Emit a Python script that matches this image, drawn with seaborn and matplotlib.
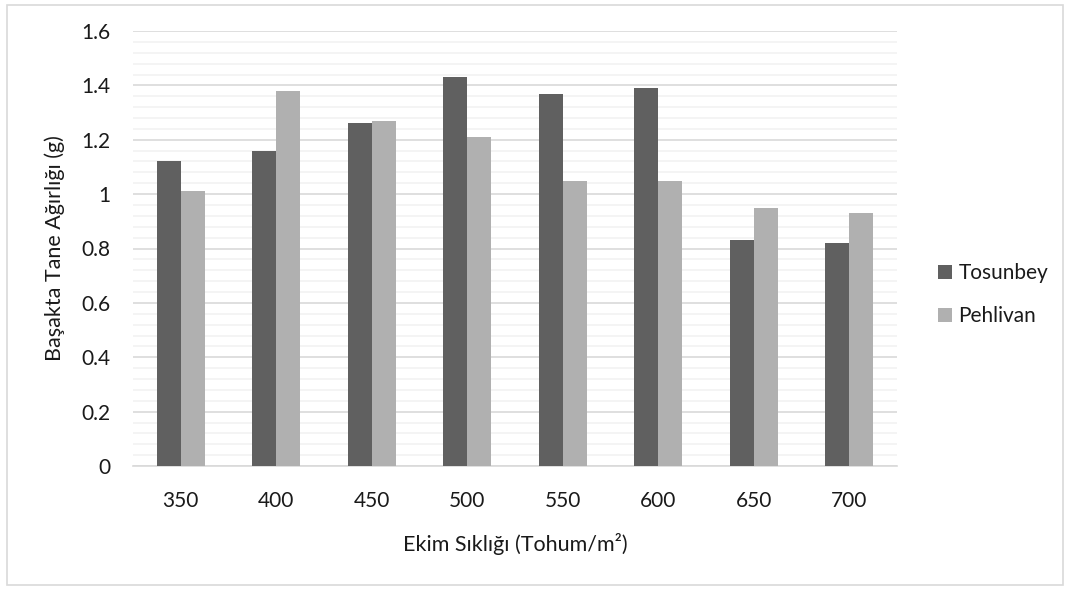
import matplotlib
matplotlib.use("Agg")
import matplotlib.pyplot as plt
import numpy as np
import pandas as pd
import seaborn as sns
from matplotlib.patches import Rectangle

# veri
densities = ["350", "400", "450", "500", "550", "600", "650", "700"]
tosunbey = [1.12, 1.16, 1.26, 1.43, 1.37, 1.39, 0.83, 0.82]
pehlivan = [1.01, 1.38, 1.27, 1.21, 1.05, 1.05, 0.95, 0.93]
series_names = ["Tosunbey", "Pehlivan"]
y_ticks = [0, 0.2, 0.4, 0.6, 0.8, 1, 1.2, 1.4, 1.6]
y_tick_labels = ["0", "0.2", "0.4", "0.6", "0.8", "1", "1.2", "1.4", "1.6"]

df = pd.DataFrame({
    "yogunluk": densities * 2,
    "deger": tosunbey + pehlivan,
    "cesit": [series_names[0]] * len(densities) + [series_names[1]] * len(densities),
})

sns.set_theme(style="white")
plt.rcParams["font.family"] = ["Lato", "DejaVu Sans"]

TXT = "#1a1a1a"

fig = plt.figure(figsize=(10.73, 5.89), dpi=100)
ax = fig.add_axes([133 / 1073, 1 - 466 / 589, (897 - 133) / 1073, (466 - 31) / 589])

sns.barplot(data=df, x="yogunluk", y="deger", hue="cesit", order=densities,
            hue_order=series_names, palette=["#606060", "#b0b0b0"],
            width=0.5, dodge=True, saturation=1, linewidth=0, ax=ax, zorder=3)

ax.set_ylim(0, 1.6)
ax.set_yticks(y_ticks)
ax.set_yticklabels(y_tick_labels)
ax.set_yticks(np.arange(0, 1.61, 0.04), minor=True)
ax.grid(axis="y", which="major", color="#d9d9d9", linewidth=1.2, zorder=0)
ax.grid(axis="y", which="minor", color="#f2f2f2", linewidth=1.2, zorder=0)
ax.set_axisbelow(True)

for side in ["top", "right", "left"]:
    ax.spines[side].set_visible(False)
ax.spines["bottom"].set_color("#d9d9d9")
ax.spines["bottom"].set_linewidth(1.2)

ax.tick_params(axis="both", which="both", length=0, labelsize=15, colors=TXT)
ax.tick_params(axis="x", pad=18)
ax.tick_params(axis="y", pad=16)

ax.set_xlabel("Ekim Sıklığı (Tohum/m²)", fontsize=15.5, color=TXT, labelpad=16)
ax.set_ylabel("Başakta Tane Ağırlığı (g)", fontsize=15.5, color=TXT, labelpad=12)

leg = ax.legend(loc="center left", bbox_to_anchor=(1.054, 0.394), frameon=False,
                fontsize=15, handlelength=0.67, handleheight=0.67,
                handletextpad=0.3, labelspacing=1.1, borderpad=0, borderaxespad=0)
for t in leg.get_texts():
    t.set_color(TXT)

fig.patches.append(Rectangle((7 / 1073, 1 - 585 / 589), 1056 / 1073, 580 / 589,
                             transform=fig.transFigure, fill=False,
                             edgecolor="#d9d9d9", linewidth=1.2))

fig.savefig("out.png", dpi=100)
